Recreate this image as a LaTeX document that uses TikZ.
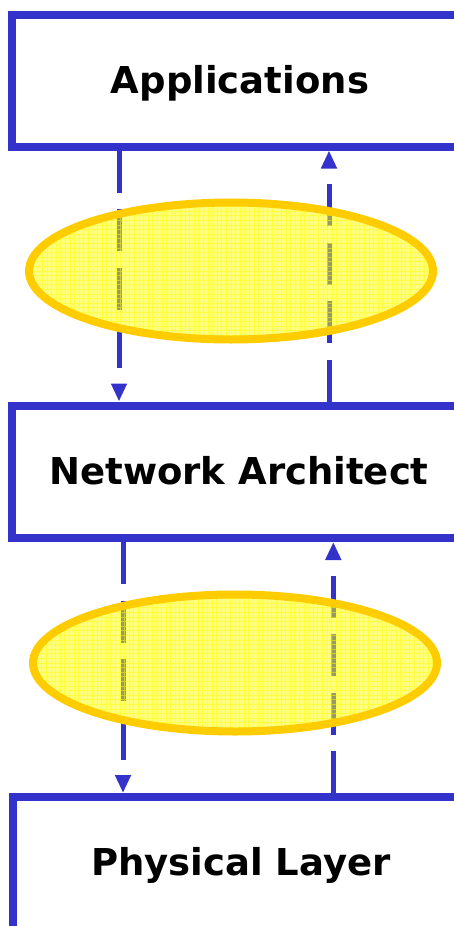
\documentclass[tikz,border=0pt]{standalone}
\usepackage{fontspec}
\setmainfont{DejaVu Sans}
\usetikzlibrary{arrows.meta,shapes.geometric}
\definecolor{boxblue}{RGB}{51,51,204}
\definecolor{ringorange}{RGB}{255,204,0}
\definecolor{gridyellow}{RGB}{255,255,0}
\tikzset{
  layerbox/.style={draw=boxblue, line width=8pt, fill=white, rectangle, inner sep=0pt},
  layertext/.style={anchor=base, font=\fontsize{37}{40}\selectfont\bfseries, text=black, inner sep=0pt},
  cloud/.style={ellipse, draw=ringorange, line width=8pt, fill=gridyellow, fill opacity=0.5, draw opacity=1,
    minimum width=404pt, minimum height=137pt, inner sep=0pt,
    path picture={\draw[gridyellow, line width=1pt, opacity=0.5]
      ([shift={(-3pt,3pt)}]path picture bounding box.south west) grid[step=4.6pt] (path picture bounding box.north east);}},
  flow/.style={draw=boxblue, line width=5pt, dash pattern=on 42pt off 16.5pt,
    -{Triangle[length=18pt,width=15pt]}}
}
\begin{document}
\begin{tikzpicture}[x=1pt,y=-1pt]
\useasboundingbox (0,0) rectangle (453,926);
% boxes
\node[layerbox, minimum width=456pt, minimum height=131.5pt] (app) at (240,80.75) {};
\node[layerbox, minimum width=456pt, minimum height=132.5pt] (net) at (240,471.75) {};
\node[layerbox, minimum width=455.7pt, minimum height=133pt] (phy) at (241.15,863.5) {};
\node[layertext] (apptext) at (240,93) {Applications};
\node[layertext] (nettext) at (239,484) {Network Architect};
\node[layertext] (phytext) at (241,875.7) {Physical Layer};
% arrows
\draw[flow] ([xshift=111pt]app.south west) -- ([xshift=111pt]net.north west);
\draw[flow] ([xshift=321pt]net.north west) -- ([xshift=321pt]app.south west);
\draw[flow] ([xshift=115pt]net.south west) -- ([xshift=113.7pt]phy.north west);
\draw[flow] ([xshift=324pt]phy.north west) -- ([xshift=325.3pt]net.south west);
% ellipses
\node[cloud] (e1) at (231,271) {};
\node[cloud] (e2) at (235,663) {};
\end{tikzpicture}
\end{document}
